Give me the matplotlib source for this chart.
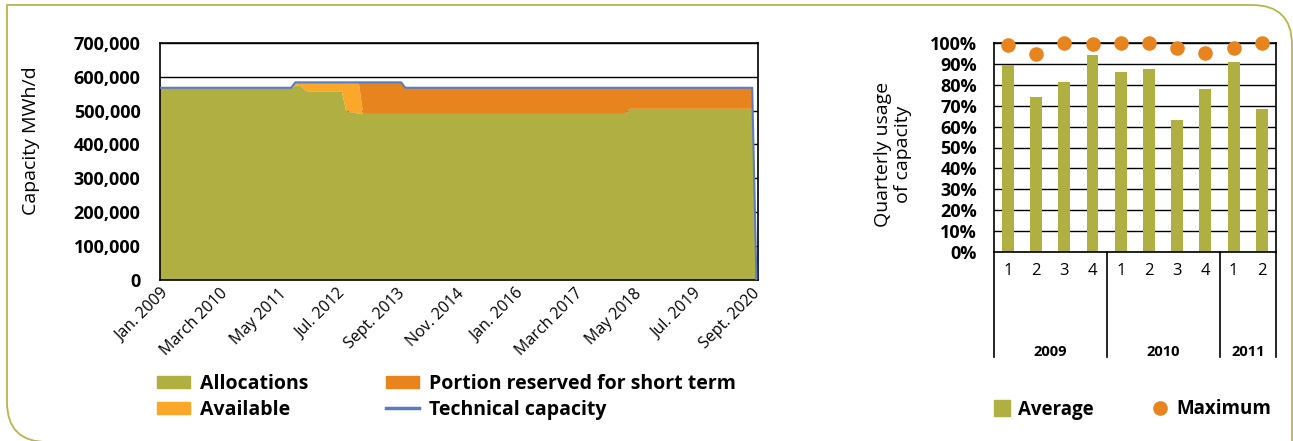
import numpy as np
import matplotlib
matplotlib.use("Agg")
from matplotlib import pyplot as plt
from matplotlib.patches import Patch, PathPatch
from matplotlib.lines import Line2D
from matplotlib.path import Path

plt.rcParams['font.family'] = ['Open Sans', 'DejaVu Sans']

# Capacity per month, Jan. 2009 onwards, given as flat segments (value, number of months)
tech_levels = [567000, 583000, 567000, 0]
tech_months = [32, 26, 83, 1]
alloc_levels = [567000, 572000, 575000, 563000, 555000, 500000, 494000, 490000, 505000, 0]
alloc_months = [32, 1, 1, 1, 9, 1, 2, 64, 30, 1]
short_term_from = 48  # first month where the unallocated part is reserved for short term

tick_labels = ['Jan. 2009', 'March 2010', 'May 2011', 'Jul. 2012', 'Sept. 2013', 'Nov. 2014',
               'Jan. 2016', 'March 2017', 'May 2018', 'Jul. 2019', 'Sept. 2020']

# Quarterly usage of capacity
quarters = ['1', '2', '3', '4', '1', '2', '3', '4', '1', '2']
years = ['2009', '2010', '2011']
quarters_per_year = [4, 4, 2]
average = [89.3, 73.9, 81.4, 94.1, 85.9, 87.3, 63.3, 77.7, 90.8, 68.4]
maximum = [98.9, 94.6, 99.7, 99.2, 100.0, 100.0, 97.3, 94.9, 97.6, 100.0]

OLIVE = '#afaf42'
ORANGE = '#e8841e'
LIGHT_ORANGE = '#fba72a'
BLUE = '#5b7cc4'

W, H = 1293, 441
fig = plt.figure(figsize=(W / 100, H / 100), dpi=100)


def fig_box(x0, y0, x1, y1):
    # pixel box (top-left origin) -> figure fraction rect
    return [x0 / W, 1 - y1 / H, (x1 - x0) / W, (y1 - y0) / H]


# ---- left chart: capacity ----
tech = np.repeat(tech_levels, tech_months)
alloc = np.repeat(alloc_levels, alloc_months)
months = np.arange(len(tech))
gap = tech - alloc
available = np.where(months < short_term_from, gap, 0)
short_term = gap - available

ax = fig.add_axes(fig_box(160, 42.7, 757.7, 280))
ax.stackplot(months, alloc, available, short_term, colors=[OLIVE, LIGHT_ORANGE, ORANGE],
             linewidth=0, zorder=2)
ax.plot(months, tech, color=BLUE, lw=1.5, zorder=3)
ax.set_xlim(0, 141.3)
ax.set_ylim(0, 700000)
ax.set_yticks(np.arange(0, 700001, 100000))
ax.set_yticklabels(['{:,}'.format(v) for v in range(0, 700001, 100000)],
                   fontsize=13, fontweight='bold')
ax.yaxis.grid(True, color='black', lw=1, zorder=0)
ax.set_axisbelow(True)
ax.set_xticks(np.arange(0, 141, 14))
ax.set_xticklabels(tick_labels, rotation=45, ha='right', rotation_mode='anchor', fontsize=11.5)
ax.tick_params(axis='y', length=0, pad=14)
ax.tick_params(axis='x', length=0, pad=4)
for s in ax.spines.values():
    s.set_color('black')
    s.set_linewidth(1.2)
fig.text(31 / W, 1 - 141 / H, 'Capacity MWh/d', rotation=90, fontsize=14,
         ha='center', va='center')

handles = [Patch(color=OLIVE), Patch(color=LIGHT_ORANGE), Patch(color=ORANGE),
           Line2D([], [], color=BLUE, lw=2.5)]
labels = ['Allocations', 'Available', 'Portion reserved for short term', 'Technical capacity']
fig.legend(handles, labels, ncol=2, loc='upper left', bbox_to_anchor=(157 / W, 1 - 374 / H),
           frameon=False, prop={'weight': 'bold', 'size': 14}, handlelength=1.7,
           handleheight=0.55, handletextpad=0.52, columnspacing=4.0, labelspacing=0.29,
           borderaxespad=0, borderpad=0)

# ---- right chart: quarterly usage ----
ax2 = fig.add_axes(fig_box(993.7, 42.7, 1276, 252.3))
x = np.arange(len(quarters))
ax2.bar(x, average, width=0.42, color=OLIVE, zorder=2)
ax2.scatter(x, maximum, s=110, color=ORANGE, zorder=3, clip_on=False, linewidths=0)
ax2.set_xlim(-0.5, len(quarters) - 0.5)
ax2.set_ylim(0, 100)
ax2.set_yticks(np.arange(0, 101, 10))
ax2.set_yticklabels(['{}%'.format(v) for v in range(0, 101, 10)], fontsize=13, fontweight='bold')
ax2.yaxis.grid(True, color='black', lw=1, zorder=0)
ax2.set_axisbelow(True)
ax2.set_xticks(x)
ax2.set_xticklabels(quarters, fontsize=12)
ax2.tick_params(axis='y', length=0, pad=12)
ax2.tick_params(axis='x', length=0, pad=8)
for s in ax2.spines.values():
    s.set_color('black')
    s.set_linewidth(1.2)

# year groups under the quarter labels
trans = ax2.get_xaxis_transform()
edges = np.concatenate([[0], np.cumsum(quarters_per_year)]) - 0.5
for e in edges:
    ax2.plot([e, e], [0, -0.5], color='black', lw=1.2, transform=trans, clip_on=False)
for i, yr in enumerate(years):
    ax2.text((edges[i] + edges[i + 1]) / 2, -0.476, yr, transform=trans, ha='center',
             va='center', fontsize=10.5, fontweight='bold')

fig.text(893 / W, 1 - 154 / H, 'Quarterly usage\nof capacity', rotation=90, fontsize=14,
         ha='center', va='center', multialignment='center')

handles2 = [Line2D([], [], marker='s', ls='', color=OLIVE, markersize=11.5),
            Line2D([], [], marker='o', ls='', color=ORANGE, markersize=9.5)]
fig.legend(handles2, ['Average', 'Maximum'], ncol=2, loc='upper left',
           bbox_to_anchor=(992.5 / W, 1 - 399.5 / H), frameon=False,
           prop={'weight': 'bold', 'size': 13.5}, handlelength=1.0, handletextpad=0.35,
           columnspacing=3.05, borderaxespad=0, borderpad=0)

# outer frame, rounded at top right and bottom left
r = 40
frame = Path([(7 + r, H + 1), (7, H + 1), (7, H + 1 - r), (7, 5), (W - 1 - r, 5),
              (W - 1, 5), (W - 1, 5 + r), (W - 1, H + 5)],
             [Path.MOVETO, Path.CURVE3, Path.CURVE3, Path.LINETO, Path.LINETO,
              Path.CURVE3, Path.CURVE3, Path.LINETO])
frame = Path(np.column_stack([frame.vertices[:, 0] / W, 1 - frame.vertices[:, 1] / H]),
             frame.codes)
fig.patches.append(PathPatch(frame, transform=fig.transFigure, fill=False,
                             edgecolor='#b6b64e', lw=1.3))

fig.savefig('out.png', dpi=100)
